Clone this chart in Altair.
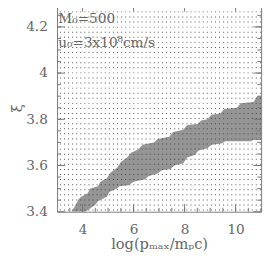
import altair as alt
import pandas as pd

# Band (grey region) boundaries
upper_x = [3.58, 3.85, 3.95, 4.2, 4.3, 4.6, 4.7, 4.95, 5.1, 5.35, 5.5, 5.75, 5.9, 6.2, 6.35, 6.8, 6.95, 7.4, 7.55, 7.95, 8.1, 8.5, 8.65, 8.9, 9.05, 9.4, 9.55, 10.05, 10.2, 10.7, 10.85, 11.0]
upper_y = [3.40, 3.455, 3.465, 3.48, 3.50, 3.51, 3.53, 3.545, 3.57, 3.59, 3.615, 3.635, 3.655, 3.67, 3.69, 3.70, 3.715, 3.725, 3.745, 3.755, 3.775, 3.78, 3.795, 3.80, 3.82, 3.825, 3.845, 3.85, 3.87, 3.875, 3.90, 3.90]
lower_x = [4.11, 4.5, 4.6, 4.95, 5.05, 5.35, 5.45, 5.8, 6.0, 6.45, 6.6, 6.95, 7.1, 7.45, 7.6, 7.95, 8.1, 8.4, 8.55, 8.9, 9.05, 9.45, 9.6, 10.6, 10.7, 11.0]
lower_y = [3.40, 3.43, 3.445, 3.465, 3.485, 3.50, 3.51, 3.515, 3.53, 3.54, 3.555, 3.565, 3.58, 3.585, 3.60, 3.61, 3.635, 3.645, 3.665, 3.675, 3.69, 3.695, 3.705, 3.705, 3.71, 3.71]

# Scan grid (dots)
grid_x = [round(3.13 + 0.16 * i, 3) for i in range(50)]
grid_y = [round(3.407 + 0.022 * j, 3) for j in range(41)]

x_ticks = [4, 6, 8, 10]
y_ticks = [3.4, 3.6, 3.8, 4.0, 4.2]
x_minor = [3.5 + 0.5 * i for i in range(16)]
y_minor = [round(3.45 + 0.05 * i, 2) for i in range(17)]

labels = ["M₀=500", "u₀=3x10⁸cm/s"]
label_x = [3.05, 3.05]
label_y = [4.232, 4.13]

W, H = 210, 214
XD, YD = [3, 11], [3.4, 4.3]
GREY = "#666666"
FONT = "DejaVu Serif"

xs = alt.Scale(domain=XD, nice=False, zero=False)
ys = alt.Scale(domain=YD, nice=False, zero=False)

up = pd.DataFrame({"x": upper_x, "y": upper_y, "y0": 3.4})
lo = pd.DataFrame({"x": lower_x, "y": lower_y, "y0": 3.4})
dots = pd.DataFrame([{"x": a, "y": b} for a in grid_x for b in grid_y])

base_x = alt.X("x:Q", scale=xs, axis=alt.Axis(
    values=x_ticks, ticks=False, domain=False, grid=False, labelPadding=11,
    labelFont=FONT, labelFontSize=14, labelColor=GREY,
    title="log(pₘₐₓ/mₚc)", titleFont=FONT, titleFontSize=15,
    titleFontWeight="normal", titleColor=GREY, titlePadding=1))
base_y = alt.Y("y:Q", scale=ys, axis=alt.Axis(
    values=y_ticks, ticks=False, domain=False, grid=False, labelPadding=10,
    labelFont=FONT, labelFontSize=14, labelColor=GREY,
    labelExpr="datum.value == 4 ? '4' : format(datum.value, '.1f')",
    title="ξ", titleFont=FONT, titleFontSize=15, titleFontWeight="normal",
    titleColor=GREY, titleX=-42, titleY=107, titleAlign="center",
    titleBaseline="middle"))

grey_area = alt.Chart(up).mark_area(color="#959595", clip=True, interpolate="linear").encode(
    x=base_x, y=base_y, y2="y0:Q")
white_area = alt.Chart(lo).mark_area(color="white", clip=True, interpolate="linear").encode(
    x=alt.X("x:Q", scale=xs), y=alt.Y("y:Q", scale=ys), y2="y0:Q")
dot_layer = alt.Chart(dots).mark_square(size=1.0, color="#333333", opacity=0.85, clip=True).encode(
    x=alt.X("x:Q", scale=xs), y=alt.Y("y:Q", scale=ys))

xt = pd.DataFrame({"x": x_ticks})
xm = pd.DataFrame({"x": x_minor})
yt = pd.DataFrame({"y": y_ticks})
ym = pd.DataFrame({"y": y_minor})
TC = "#777777"

def xtick(df, length):
    b = alt.Chart(df).mark_rule(color=TC, strokeWidth=1)
    return (b.encode(x=alt.X("x:Q", scale=xs), y=alt.value(H), y2=alt.value(H - length)) +
            b.encode(x=alt.X("x:Q", scale=xs), y=alt.value(0), y2=alt.value(length)))

def ytick(df, length):
    b = alt.Chart(df).mark_rule(color=TC, strokeWidth=1)
    return (b.encode(y=alt.Y("y:Q", scale=ys), x=alt.value(0), x2=alt.value(length)) +
            b.encode(y=alt.Y("y:Q", scale=ys), x=alt.value(W), x2=alt.value(W - length)))

txt = pd.DataFrame({"x": label_x, "y": label_y, "t": labels})
text_layer = alt.Chart(txt).mark_text(align="left", baseline="middle", font=FONT,
                                      fontSize=14, color=GREY).encode(
    x=alt.X("x:Q", scale=xs), y=alt.Y("y:Q", scale=ys), text="t:N")

chart = alt.layer(
    grey_area, white_area, dot_layer,
    xtick(xt, 8), xtick(xm, 4), ytick(yt, 8), ytick(ym, 4),
    text_layer
).properties(
    width=W, height=H,
    autosize=alt.AutoSizeParams(type="none"),
    padding={"left": 50.5, "top": -8, "right": 4, "bottom": 45}
).configure_view(stroke="#777777", strokeWidth=1)

chart.save("out.html", embed_options={"renderer": "svg", "actions": False})
